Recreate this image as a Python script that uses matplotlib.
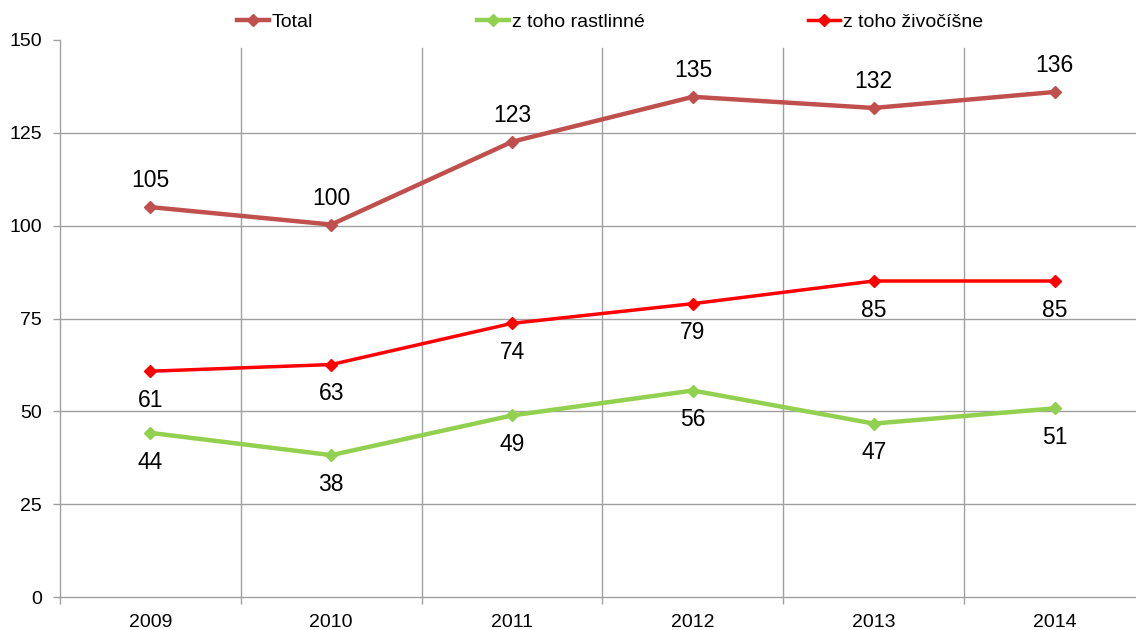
import matplotlib
matplotlib.use("Agg")
import matplotlib.pyplot as plt
from matplotlib.lines import Line2D

plt.rcParams['font.family'] = ['Liberation Sans', 'DejaVu Sans']

years = ["2009", "2010", "2011", "2012", "2013", "2014"]
total = [105.0, 100.3, 122.6, 134.7, 131.7, 136.0]
plant = [44.2, 38.2, 48.9, 55.6, 46.7, 50.8]
animal = [60.8, 62.6, 73.7, 79.0, 85.1, 85.1]
series_names = ["Total", "z toho rastlinné", "z toho živočíšne"]
y_ticks = [0, 25, 50, 75, 100, 125, 150]

c_total = "#C0504D"
c_plant = "#92D050"
c_animal = "#FF0000"
grid_c = "#A0A0A0"

W, H = 1136, 630
fig = plt.figure(figsize=(W / 100, H / 100), dpi=100)
ax = fig.add_axes([60 / W, 33 / H, (1145 - 60) / W, (597 - 40) / H])

x = list(range(len(years)))
ax.set_xlim(-0.5, len(years) - 0.5)
ax.set_ylim(0, 150)

# gridlines
for yv in y_ticks[1:-1]:
    ax.axhline(yv, color=grid_c, lw=1.0, zorder=1)
for i in range(1, len(years)):
    ax.axvline(i - 0.5, ymin=0, ymax=147.8 / 150, color=grid_c, lw=1.0, zorder=1)

for sp in ["top", "right"]:
    ax.spines[sp].set_visible(False)
for sp in ["left", "bottom"]:
    ax.spines[sp].set_color(grid_c)
    ax.spines[sp].set_linewidth(1.0)

ax.set_yticks(y_ticks)
ax.tick_params(axis="y", length=5, width=1.0, color=grid_c, pad=8, labelsize=14)
ax.set_xticks(x)
ax.set_xticklabels(years)
ax.set_xticks([i - 0.5 for i in range(len(years) + 1)], minor=True)
ax.tick_params(axis="x", which="major", length=0, pad=12, labelsize=14)
ax.tick_params(axis="x", which="minor", length=5, width=1.0, color=grid_c)

ax.plot(x, total, color=c_total, lw=3.2, marker="D", ms=6, zorder=3, label=series_names[0])
ax.plot(x, plant, color=c_plant, lw=3.2, marker="D", ms=6, zorder=3, label=series_names[1])
ax.plot(x, animal, color=c_animal, lw=2.5, marker="D", ms=6, zorder=3, label=series_names[2])

for xi, v in zip(x, total):
    ax.annotate(f"{round(v)}", (xi, v), xytext=(0, 19), textcoords="offset points",
                ha="center", va="center", fontsize=16.5, color="black")
for xi, v in zip(x, animal):
    ax.annotate(f"{round(v)}", (xi, v), xytext=(0, -21), textcoords="offset points",
                ha="center", va="center", fontsize=16.5, color="black")
for xi, v in zip(x, plant):
    ax.annotate(f"{round(v)}", (xi, v), xytext=(0, -21), textcoords="offset points",
                ha="center", va="center", fontsize=16.5, color="black")

handles = [
    Line2D([], [], color=c_total, lw=3.2, marker="D", ms=6),
    Line2D([], [], color=c_plant, lw=3.2, marker="D", ms=6),
    Line2D([], [], color=c_animal, lw=2.5, marker="D", ms=6),
]
fig.legend(handles, series_names, loc="center", bbox_to_anchor=(610 / W, 1 - 22 / H),
           ncol=3, frameon=False, fontsize=14, handlelength=1.65, handletextpad=0.15,
           columnspacing=8.4, borderpad=0)

fig.savefig("out.png", dpi=100)
